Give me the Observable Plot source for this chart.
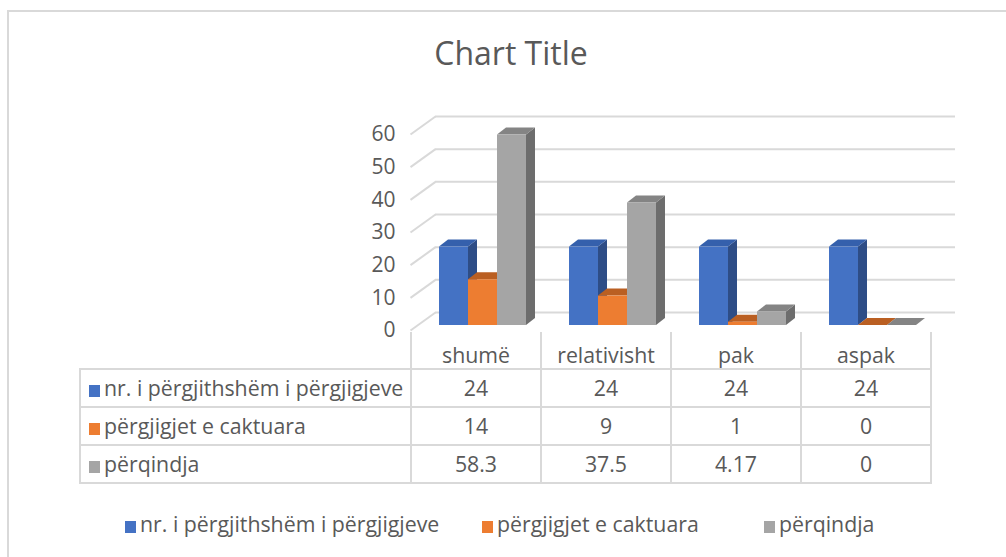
<!DOCTYPE html>
<html>
<head>
<meta charset="utf-8">
<script src="https://cdn.jsdelivr.net/npm/d3@7"></script>
<script src="https://cdn.jsdelivr.net/npm/@observablehq/plot@0.6"></script>
<style>
  html, body { margin: 0; padding: 0; background: #fff; }
  #page { position: relative; width: 1006px; height: 557px; overflow: hidden; background: #fff; font-family: "Open Sans", Lato, sans-serif; color: #595959; }
  #frame { position: absolute; left: 7px; top: 10px; width: 1100px; height: 600px; border-left: 2px solid #d9d9d9; border-top: 2px solid #d9d9d9; }
  #title { position: absolute; left: 0; width: 1022px; top: 31px; text-align: center; font-size: 32px; color: #595959; }
  #chart { position: absolute; left: 0; top: 0; }
  #table { position: absolute; left: 79px; top: 332px; border-collapse: collapse; font-size: 21.3px; color: #595959; table-layout: fixed; }
  #table td { border: 2px solid #d9d9d9; padding: 0; height: 36px; line-height: 24px; text-align: center; white-space: nowrap; }
  #table td.lab { text-align: left; padding-left: 8px; }
  #table tr.head td { border-top: none; height: 35px; vertical-align: bottom; padding-bottom: 1px; }
  #table tr.head td.corner { border-left: none; }
  .key { display: inline-block; width: 11px; height: 12px; margin-right: 4px; vertical-align: -1px; }
  #legend { position: absolute; top: 509px; left: 0; font-size: 21.3px; color: #595959; }
  #legend span.item { position: absolute; white-space: nowrap; }
</style>
</head>
<body>
<div id="page">
  <div id="frame"></div>
  <div id="title">Chart Title</div>
  <div id="chart"></div>
  <table id="table"></table>
  <div id="legend"></div>
</div>
<script>
// ---- data ----
const categories = ["shumë", "relativisht", "pak", "aspak"];
const seriesNames = ["nr. i përgjithshëm i përgjigjeve", "përgjigjet e caktuara", "përqindja"];
const totalResponses = [24, 24, 24, 24];
const specificResponses = [14, 9, 1, 0];
const percentage = [58.3, 37.5, 4.17, 0];
const yTicks = [0, 10, 20, 30, 40, 50, 60];

const seriesValues = [totalResponses, specificResponses, percentage];
const frontColors = ["#4472C4", "#ED7D31", "#A5A5A5"];
const topColors = ["#3560AC", "#BA5F22", "#848484"];
const sideColors = ["#2E4D86", "#A6551F", "#6D6D6D"];

// ---- geometry (pixel constants converted to data units) ----
const W = 1006, H = 557;
const mLeft = 410, mRight = W - 930, mTop = 134, mBottom = H - 330;
const PXX = (W - mLeft - mRight) / categories.length; // px per category
const PXY = (H - mTop - mBottom) / 60;                 // px per value unit
const wall = { dx: 25 / PXX, dy: 18 / PXY };
const bar = { offset: 29 / PXX, width: 29 / PXX, base: 5 / PXY, sdx: 9 / PXX, sdy: 7 / PXY };

const bars = [];
categories.forEach((c, i) => {
  seriesValues.forEach((vals, j) => {
    const x1 = i + bar.offset + j * bar.width;
    bars.push({ id: `${i}-${j}`, i, j, v: vals[i], x1, x2: x1 + bar.width, y1: bar.base, y2: bar.base + vals[i] });
  });
});
const sides = bars.flatMap(b => [
  { id: b.id, j: b.j, x: b.x2, y1: b.y1, y2: b.y2 },
  { id: b.id, j: b.j, x: b.x2 + bar.sdx, y1: b.y1 + bar.sdy, y2: b.y2 + bar.sdy }
]);
const tops = bars.flatMap(b => [
  { id: b.id, j: b.j, y: b.y2, x1: b.x1, x2: b.x2 },
  { id: b.id, j: b.j, y: b.y2 + bar.sdy, x1: b.x1 + bar.sdx, x2: b.x2 + bar.sdx }
]);

const chart = Plot.plot({
  width: W, height: H,
  marginLeft: mLeft, marginRight: mRight, marginTop: mTop, marginBottom: mBottom,
  style: { background: "transparent", overflow: "visible", fontFamily: "'Open Sans', Lato, sans-serif", fontSize: "21px", color: "#595959" },
  x: { domain: [0, categories.length], axis: null },
  y: { domain: [0, 60], ticks: yTicks, tickSize: 0, tickPadding: 15, label: null, tickFormat: d => String(d) },
  color: { type: "identity" },
  marks: [
    Plot.ruleY(yTicks, { y: d => d + wall.dy, x1: () => wall.dx, x2: () => categories.length + wall.dx, stroke: "#d9d9d9", strokeWidth: 2 }),
    Plot.link(yTicks, { x1: () => 0, y1: d => d, x2: () => wall.dx, y2: d => d + wall.dy, stroke: "#d9d9d9", strokeWidth: 2 }),
    Plot.areaY(sides, { x: "x", y1: "y1", y2: "y2", z: "id", fill: d => sideColors[d.j] }),
    Plot.areaX(tops, { y: "y", x1: "x1", x2: "x2", z: "id", fill: d => topColors[d.j] }),
    Plot.rect(bars, { x1: "x1", x2: "x2", y1: "y1", y2: "y2", fill: d => frontColors[d.j] })
  ]
});
document.getElementById("chart").appendChild(chart);

// ---- data table ----
const table = document.getElementById("table");
const colgroup = document.createElement("colgroup");
[331, ...categories.map(() => 130)].forEach(w => {
  const col = document.createElement("col"); col.style.width = w + "px"; colgroup.appendChild(col);
});
table.appendChild(colgroup);
const head = document.createElement("tr"); head.className = "head";
const corner = document.createElement("td"); corner.className = "corner"; head.appendChild(corner);
categories.forEach(c => { const td = document.createElement("td"); td.textContent = c; head.appendChild(td); });
table.appendChild(head);
seriesNames.forEach((name, j) => {
  const tr = document.createElement("tr");
  const lab = document.createElement("td"); lab.className = "lab";
  lab.innerHTML = `<span class="key" style="background:${frontColors[j]}"></span>`;
  lab.appendChild(document.createTextNode(name));
  tr.appendChild(lab);
  seriesValues[j].forEach(v => { const td = document.createElement("td"); td.textContent = String(v); tr.appendChild(td); });
  table.appendChild(tr);
});

// ---- legend ----
const legend = document.getElementById("legend");
const legendLeft = [125, 482, 764];
seriesNames.forEach((name, j) => {
  const s = document.createElement("span"); s.className = "item"; s.style.left = legendLeft[j] + "px";
  s.innerHTML = `<span class="key" style="background:${frontColors[j]}"></span>`;
  s.appendChild(document.createTextNode(name));
  legend.appendChild(s);
});
</script>
</body>
</html>
